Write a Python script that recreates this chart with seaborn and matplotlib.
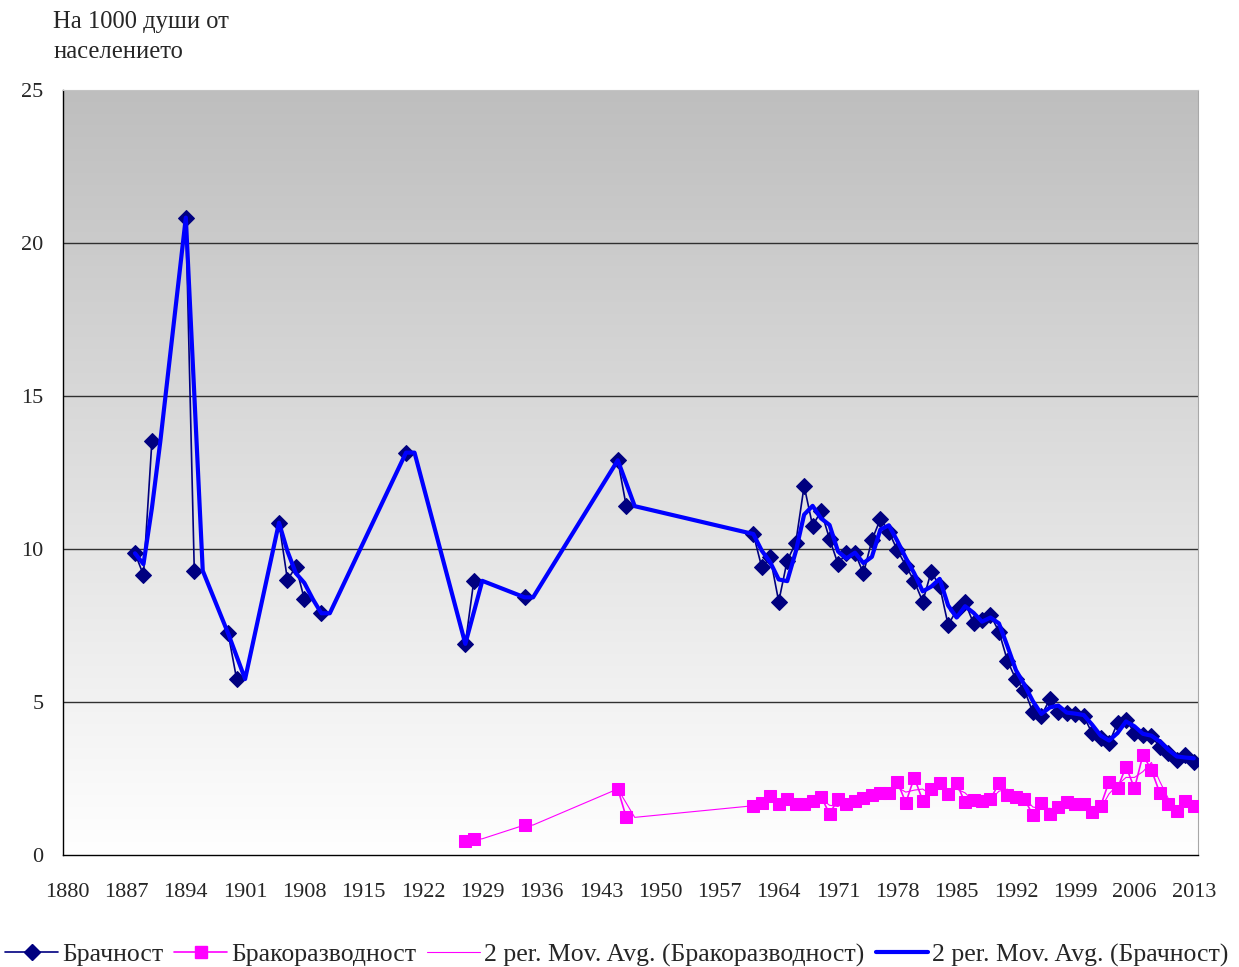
import numpy as np
import pandas as pd
import matplotlib
matplotlib.use("Agg")
import matplotlib.pyplot as plt
import seaborn as sns
from matplotlib.colors import LinearSegmentedColormap
from matplotlib.lines import Line2D

# Брачност (на 1000 души)
marriage_years = [1888, 1889, 1890, 1894, 1895, 1899, 1900, 1905, 1906, 1907, 1908, 1910,
                  1920, 1927, 1928, 1934, 1945, 1946] + list(range(1961, 2014))
marriage_rate = [9.86, 9.15, 13.54, 20.83, 9.29, 7.24, 5.75, 10.86, 8.99, 9.42, 8.36, 7.9,
                 13.15, 6.9, 8.96, 8.42, 12.9, 11.4,
                 10.49, 9.40, 9.73, 8.28, 9.62, 10.19, 12.06, 10.76, 11.24, 10.33,
                 9.51, 9.88, 9.88, 9.2, 10.29, 10.98, 10.57, 9.96, 9.46, 8.95,
                 8.28, 9.26, 8.79, 7.52, 8.0, 8.26, 7.57, 7.68, 7.84, 7.3,
                 6.35, 5.74, 5.39, 4.67, 4.55, 5.09, 4.68, 4.63, 4.61, 4.54,
                 3.98, 3.83, 3.65, 4.32, 4.41, 4.0, 3.92, 3.88, 3.54, 3.34,
                 3.1, 3.27, 3.05]

# Бракоразводност (на 1000 души)
divorce_years = [1927, 1928, 1934, 1945, 1946] + list(range(1961, 2014))
divorce_rate = [0.47, 0.53, 0.98, 2.16, 1.23,
                1.61, 1.69, 1.94, 1.66, 1.82, 1.66, 1.66, 1.78, 1.91, 1.34,
                1.83, 1.66, 1.78, 1.85, 1.96, 2.02, 2.02, 2.4, 1.71, 2.53,
                1.78, 2.16, 2.34, 1.98, 2.34, 1.72, 1.8, 1.78, 1.83, 2.34,
                1.96, 1.91, 1.83, 1.31, 1.71, 1.34, 1.58, 1.74, 1.66, 1.66,
                1.42, 1.6, 2.4, 2.18, 2.89, 2.18, 3.27, 2.78, 2.02, 1.66,
                1.44, 1.76, 1.6]

x_ticks = list(range(1880, 2014, 7))
y_ticks = [0, 5, 10, 15, 20, 25]


def moving_avg(years, values):
    """2-периодна плъзгаща средна върху годишна ос (празните години се пропускат)"""
    s = pd.Series(values, index=years)
    s = s.reindex(range(min(years), max(years) + 2))
    ma = s.rolling(2, min_periods=1).mean().dropna()
    return ma[ma.index <= 2013]


def with_segments(years, values):
    """Липсващите години прекъсват линията на реда"""
    df = pd.DataFrame({'year': years, 'rate': values})
    df['seg'] = (df['year'].diff() != 1).cumsum()
    return df


sns.set_style("white")
plt.rcParams['font.family'] = ['Liberation Serif', 'DejaVu Serif']

fig = plt.figure(figsize=(12.39, 9.67), dpi=100)
ax = fig.add_axes([63 / 1239, 112 / 967, 1135 / 1239, 765 / 967])

# градиентен фон
cmap = LinearSegmentedColormap.from_list("bg", ["#ffffff", "#bebebe"])
ax.imshow(np.linspace(0, 1, 256).reshape(-1, 1), cmap=cmap, aspect='auto',
          origin='lower', extent=[1879.5, 2013.5, 0, 25], zorder=0)
for yv in y_ticks[1:-1]:
    ax.axhline(yv, color='#303030', lw=1, zorder=1)

df_m = with_segments(marriage_years, marriage_rate)
df_d = with_segments(divorce_years, divorce_rate)
ma_m = moving_avg(marriage_years, marriage_rate)
ma_d = moving_avg(divorce_years, divorce_rate)

sns.lineplot(data=df_d, x='year', y='rate', units='seg', ax=ax, estimator=None, sort=False,
             color='#ff00ff', lw=1.2, marker='s', markersize=9,
             markeredgecolor='#ff00ff', zorder=3)
sns.lineplot(data=df_m, x='year', y='rate', units='seg', ax=ax, estimator=None, sort=False,
             color='#000080', lw=1.2, marker='D', markersize=8,
             markeredgecolor='#000080', zorder=3)
sns.lineplot(x=ma_d.index, y=ma_d.values, ax=ax, estimator=None, sort=False,
             color='#ff00ff', lw=0.8, zorder=4)
sns.lineplot(x=ma_m.index, y=ma_m.values, ax=ax, estimator=None, sort=False,
             color='#0000ff', lw=3, zorder=4)

ax.set_xlim(1879.5, 2013.5)
ax.set_ylim(0, 25)
ax.set_xticks(x_ticks)
ax.set_yticks(y_ticks)
ax.tick_params(axis='x', length=0, pad=20, labelsize=16)
ax.tick_params(axis='y', length=6, width=1, direction='out', pad=8, labelsize=16, color='black')
ax.set_xlabel('')
ax.set_ylabel('')
if ax.get_legend():
    ax.get_legend().remove()

for side in ['left', 'bottom']:
    ax.spines[side].set_color('black')
    ax.spines[side].set_linewidth(1)
ax.spines['top'].set_color('#c4c4c4')
ax.spines['right'].set_color('#a8a8a8')

fig.text(53 / 1239, 1 - 28 / 967, "На 1000 души от", ha='left', va='baseline', fontsize=17.7)
fig.text(53 / 1239, 1 - 58 / 967, "населението", ha='left', va='baseline', fontsize=17.7)

handles = [
    Line2D([], [], color='#000080', lw=1.2, marker='D', markersize=8),
    Line2D([], [], color='#ff00ff', lw=1.2, marker='s', markersize=9),
    Line2D([], [], color='#ff00ff', lw=0.8),
    Line2D([], [], color='#0000ff', lw=3),
]
fig.legend(handles,
           ['Брачност', 'Бракоразводност',
            '2 per. Mov. Avg. (Бракоразводност)', '2 per. Mov. Avg. (Брачност)'],
           loc='center', bbox_to_anchor=(0.498, 12 / 967), ncol=4, frameon=False,
           fontsize=18.5, handlelength=2.06, handletextpad=0.15, columnspacing=0.43,
           borderaxespad=0)

fig.savefig('out.png', dpi=100)
